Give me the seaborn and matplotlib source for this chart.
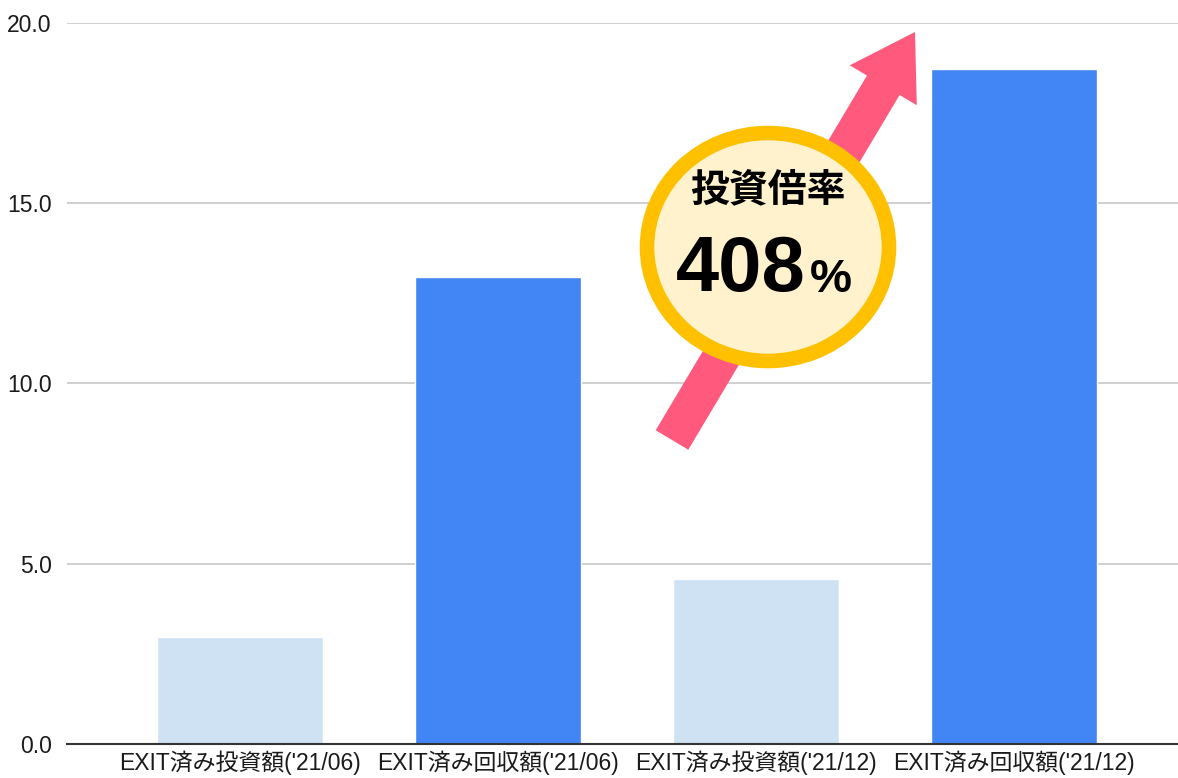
import matplotlib
matplotlib.use('Agg')
import matplotlib.pyplot as plt
import matplotlib.patches as mpatches
import pandas as pd
import seaborn as sns

# chart data
categories = ["EXIT済み投資額('21/06)", "EXIT済み回収額('21/06)",
              "EXIT済み投資額('21/12)", "EXIT済み回収額('21/12)"]
values = [2.97, 12.95, 4.58, 18.72]
bar_colors = ['#cfe2f3', '#4285f4', '#cfe2f3', '#4285f4']
yticks = [0, 5, 10, 15, 20]
badge_title = '投資倍率'
badge_value = '408'

sns.set_theme(style='white')
plt.rcParams['font.family'] = ['Liberation Sans', 'Noto Sans CJK JP', 'DejaVu Sans']

df = pd.DataFrame({'category': categories, 'value': values})

W, H = 1178, 778
fig = plt.figure(figsize=(W / 100, H / 100), dpi=100)
ax = fig.add_axes([67 / W, 1 - 744 / H, 1 - 67 / W, (744 - 23) / H])

sns.barplot(data=df, x='category', y='value', hue='category', palette=bar_colors,
            width=0.645, legend=False, saturation=1, ax=ax, zorder=3)

ax.set_ylim(0, 20)
ax.set_xlim(-0.67, 3.636)
ax.set_yticks(yticks)
ax.set_yticklabels([f'{v:.1f}' for v in yticks])
ax.set_xlabel('')
ax.set_ylabel('')
ax.yaxis.grid(True, color='#cccccc', linewidth=1.3, zorder=0)
ax.set_axisbelow(True)
for s in ['top', 'right', 'left']:
    ax.spines[s].set_visible(False)
ax.spines['bottom'].set_color('#333333')
ax.spines['bottom'].set_linewidth(1.5)
ax.spines['bottom'].set_zorder(4)
ax.tick_params(axis='both', length=0, labelsize=16.5, colors='#1a1a1a')
ax.tick_params(axis='y', pad=11)
ax.tick_params(axis='x', pad=5)

# decoration: arrow and badge, placed in pixel space (inches from figure corner)
tr = fig.dpi_scale_trans
def px(x, y):
    return x / 100, (H - y) / 100

tx, ty = px(672, 440)
hx, hy = px(915, 32)
arrow = mpatches.FancyArrow(tx, ty, hx - tx, hy - ty, width=0.38, head_width=0.78,
                            head_length=0.62, length_includes_head=True,
                            color='#ff5a7d', linewidth=0, transform=tr, zorder=10)
fig.patches.append(arrow)

cx, cy = px(768, 247)
badge = mpatches.Ellipse((cx, cy), 2.42, 2.28, facecolor='#fff2cc', edgecolor='#ffc000',
                         linewidth=10.5, transform=tr, zorder=11)
fig.patches.append(badge)

fig.text(*px(768, 190), badge_title, transform=tr, ha='center', va='center',
         fontsize=28, fontweight='bold', family=['Noto Sans CJK JP'], color='black', zorder=12)
fig.text(*px(806, 270), badge_value, transform=tr, ha='right', va='center',
         fontsize=56, fontweight='bold', family=['Liberation Sans Narrow', 'Liberation Sans'],
         color='black', zorder=12)
fig.text(*px(810, 280), '%', transform=tr, ha='left', va='center',
         fontsize=34, fontweight='bold', family=['Liberation Sans Narrow', 'Liberation Sans'],
         color='black', zorder=12)

fig.savefig('out.png', dpi=100)
